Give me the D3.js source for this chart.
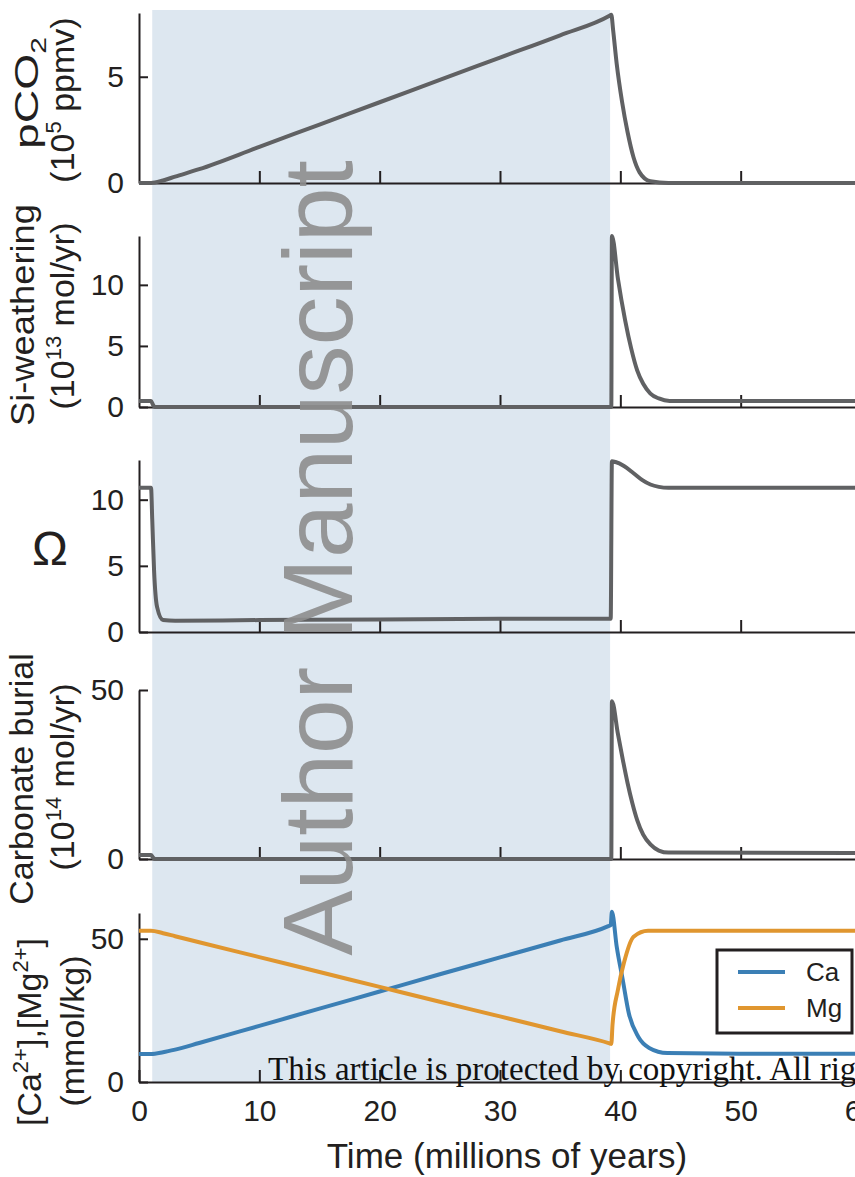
<!DOCTYPE html>
<html lang="en">
<head>
  <meta charset="UTF-8" />
  <title>Weathering model response</title>
  <style>
    html, body { margin: 0; background: #fff; }
    svg { display: block; font-family: "Liberation Sans", Arial, sans-serif; }
    .axis path, .axis line { stroke: #231f20; stroke-width: 2; }
    .axis text { font-size: 30px; fill: #231f20; font-family: "Liberation Sans", Arial, sans-serif; }
    .ylab { font-size: 34px; fill: #231f20; }
  </style>
</head>
<body>
<svg id="chart" width="855" height="1177"></svg>
<script src="https://cdn.jsdelivr.net/npm/d3@7"></script>
<script>
// ---- data (time in Myr) ----
const pco2Time = [0, 1, 2, 3, 5, 10, 15, 20, 25, 30, 35, 39.1, 39.25, 39.4, 39.7, 40.15, 40.6, 41.1, 41.6, 42.5, 44, 60];
const pco2Vals = [0, 0, 0.12, 0.3, 0.65, 1.7, 2.75, 3.8, 4.85, 5.9, 6.95, 7.87, 7.92, 7.2, 5.6, 3.8, 2.4, 1.2, 0.5, 0.08, 0, 0];

const siTime = [0, 1, 1.15, 1.3, 39.25, 39.3, 39.8, 40.4, 40.9, 41.4, 41.9, 42.5, 43.2, 44.1, 60];
const siVals = [0.5, 0.5, 0.2, 0, 0, 14.0, 10.5, 7.1, 4.8, 3.0, 1.9, 1.1, 0.7, 0.5, 0.5];

const omegaTime = [0, 1, 1.1, 1.25, 1.5, 2, 3, 10, 20, 30, 39.2, 39.3, 39.6, 40.3, 41.1, 41.8, 42.5, 43.2, 44, 60];
const omegaVals = [10.9, 10.9, 8.5, 4.7, 1.9, 0.9, 0.85, 0.9, 0.95, 1.0, 1.0, 12.9, 12.85, 12.55, 12.0, 11.5, 11.15, 10.97, 10.9, 10.9];

const carbTime = [0, 1, 1.15, 1.3, 39.25, 39.3, 39.8, 40.2, 40.6, 41.0, 41.4, 41.9, 42.5, 43.2, 44, 60];
const carbVals = [1.2, 1.2, 0.5, 0, 0, 46.7, 37, 29.5, 22.5, 16.5, 11.5, 7.2, 4.3, 2.5, 1.9, 1.8];

const caTime = [0, 1, 2, 3, 5, 10, 15, 20, 25, 30, 35, 39.0, 39.2, 39.3, 39.7, 40.2, 40.7, 41.5, 42.4, 43.9, 50, 60];
const caVals = [9.8, 9.8, 10.4, 11.3, 13.6, 19.6, 25.6, 31.6, 37.6, 43.5, 49.4, 54.4, 54.8, 59.4, 47.2, 35.7, 24.1, 15.7, 11.9, 10.1, 9.9, 9.9];

const mgTime = [0, 1, 2, 3, 5, 10, 15, 20, 25, 30, 35, 39.1, 39.25, 39.35, 39.8, 40.3, 41.1, 42.3, 60];
const mgVals = [52.8, 52.8, 51.95, 50.9, 48.8, 43.6, 38.4, 33.2, 28.0, 22.9, 17.7, 13.5, 13.3, 20.0, 32.2, 41.6, 50.7, 52.8, 52.8];

const shadeSpan = [1.1, 39.15];
const xTicks = [0, 10, 20, 30, 40, 50, 60];

// ---- layout ----
const svg = d3.select("#chart");
const x = d3.scaleLinear().domain([0, 60]).range([139, 861]);
const grey = "#606163", blue = "#3b7fb5", orange = "#e0962f";

const panels = [
  { range: [183, 13],   domain: [0, 8],  ticks: [0, 5],
    series: [{ t: pco2Time, v: pco2Vals, color: grey }] },
  { range: [407, 236],  domain: [0, 14], ticks: [0, 5, 10],
    series: [{ t: siTime, v: siVals, color: grey }] },
  { range: [632, 460],  domain: [0, 13], ticks: [0, 5, 10],
    series: [{ t: omegaTime, v: omegaVals, color: grey }] },
  { range: [859, 690],  domain: [0, 50], ticks: [0, 50],
    series: [{ t: carbTime, v: carbVals, color: grey }] },
  { range: [1082, 913], domain: [0, 59], ticks: [0, 50],
    series: [{ t: caTime, v: caVals, color: blue }, { t: mgTime, v: mgVals, color: orange }] }
];

// shaded interval
svg.append("rect")
  .attr("x", x(shadeSpan[0]))
  .attr("y", 10)
  .attr("width", x(shadeSpan[1]) - x(shadeSpan[0]))
  .attr("height", 1082 - 10)
  .attr("fill", "#dde7f0");

panels.forEach((p, i) => {
  const y = d3.scaleLinear().domain(p.domain).range(p.range);
  const last = i === panels.length - 1;

  // x axis, ticks point inward
  const xa = d3.axisBottom(x)
    .tickValues(last ? xTicks : xTicks.slice(1))
    .tickSizeInner(-12).tickSizeOuter(0).tickPadding(18)
    .tickFormat(last ? d3.format("d") : "");
  svg.append("g").attr("class", "axis")
    .attr("transform", `translate(0,${p.range[0]})`)
    .call(xa);

  // y axis
  svg.append("g").attr("class", "axis")
    .attr("transform", `translate(${x(0)},0)`)
    .call(d3.axisLeft(y).tickValues(p.ticks).tickSizeInner(-9).tickSizeOuter(0).tickPadding(15));

  // lines
  p.series.forEach(s => {
    const pts = s.t.map((t, k) => [t, s.v[k]]);
    svg.append("path")
      .datum(pts)
      .attr("fill", "none")
      .attr("stroke", s.color)
      .attr("stroke-width", 4)
      .attr("stroke-linejoin", "round")
      .attr("d", d3.line().x(d => x(d[0])).y(d => y(d[1])).curve(d3.curveMonotoneX));
  });
});

// y labels (rotated), optional stretch to match the original length
function ylab(px, py, parts, len) {
  const t = svg.append("text").attr("class", "ylab")
    .attr("text-anchor", "middle")
    .attr("transform", `translate(${px},${py}) rotate(-90)`);
  if (len) t.attr("textLength", len).attr("lengthAdjust", "spacingAndGlyphs");
  parts.forEach(([str, kind]) => {
    const ts = t.append("tspan").text(str);
    if (kind === "sup") ts.attr("font-size", 22).attr("dy", -13);
    if (kind === "sub") ts.attr("font-size", 22).attr("dy", 8);
    if (kind === "back") ts.attr("dy", 13);
  });
}
ylab(38, 93, [["pCO"], ["2", "sub"]], 112);
ylab(74, 100, [["(10"], ["5", "sup"], [" ppmv)", "back"]]);
ylab(34, 315, [["Si-weathering"]], 222);
ylab(74, 316, [["(10"], ["13", "sup"], [" mol/yr)", "back"]]);
ylab(33, 779, [["Carbonate burial"]]);
ylab(74, 777, [["(10"], ["14", "sup"], [" mol/yr)", "back"]]);
ylab(41, 1032, [["[Ca"], ["2+", "sup"], ["],[Mg", "back"], ["2+", "sup"], ["]", "back"]]);
ylab(84, 1031, [["(mmol/kg)"]]);

svg.append("text")
  .attr("x", 50).attr("y", 565)
  .attr("text-anchor", "middle")
  .style("font-size", "48px").attr("fill", "#231f20")
  .text("Ω");

// x label
svg.append("text")
  .attr("x", 507).attr("y", 1168)
  .attr("text-anchor", "middle")
  .style("font-size", "35px").attr("fill", "#231f20")
  .text("Time (millions of years)");

// legend
const leg = svg.append("g").attr("transform", "translate(717,950)");
leg.append("rect").attr("width", 135).attr("height", 83)
  .attr("fill", "#fff").attr("stroke", "#231f20").attr("stroke-width", 3);
[["Ca", blue, 22], ["Mg", orange, 58]].forEach(([name, c, yy]) => {
  leg.append("line").attr("x1", 21).attr("x2", 68).attr("y1", yy).attr("y2", yy)
    .attr("stroke", c).attr("stroke-width", 4);
  leg.append("text").attr("x", 89).attr("y", yy + 9)
    .style("font-size", "26px").attr("fill", "#231f20").text(name);
});

// watermarks
svg.append("text")
  .attr("transform", "translate(352,558) rotate(-90)")
  .attr("text-anchor", "middle")
  .style("font-size", "98px")
  .attr("fill", "#8e8e8e").attr("opacity", 0.9)
  .text("Author Manuscript");

svg.append("text")
  .attr("x", 268).attr("y", 1080)
  .style("font-family", "'Liberation Serif', 'Times New Roman', serif")
  .style("font-size", "33px").attr("fill", "#111")
  .text("This article is protected by copyright. All rights reserved.");
</script>
</body>
</html>
